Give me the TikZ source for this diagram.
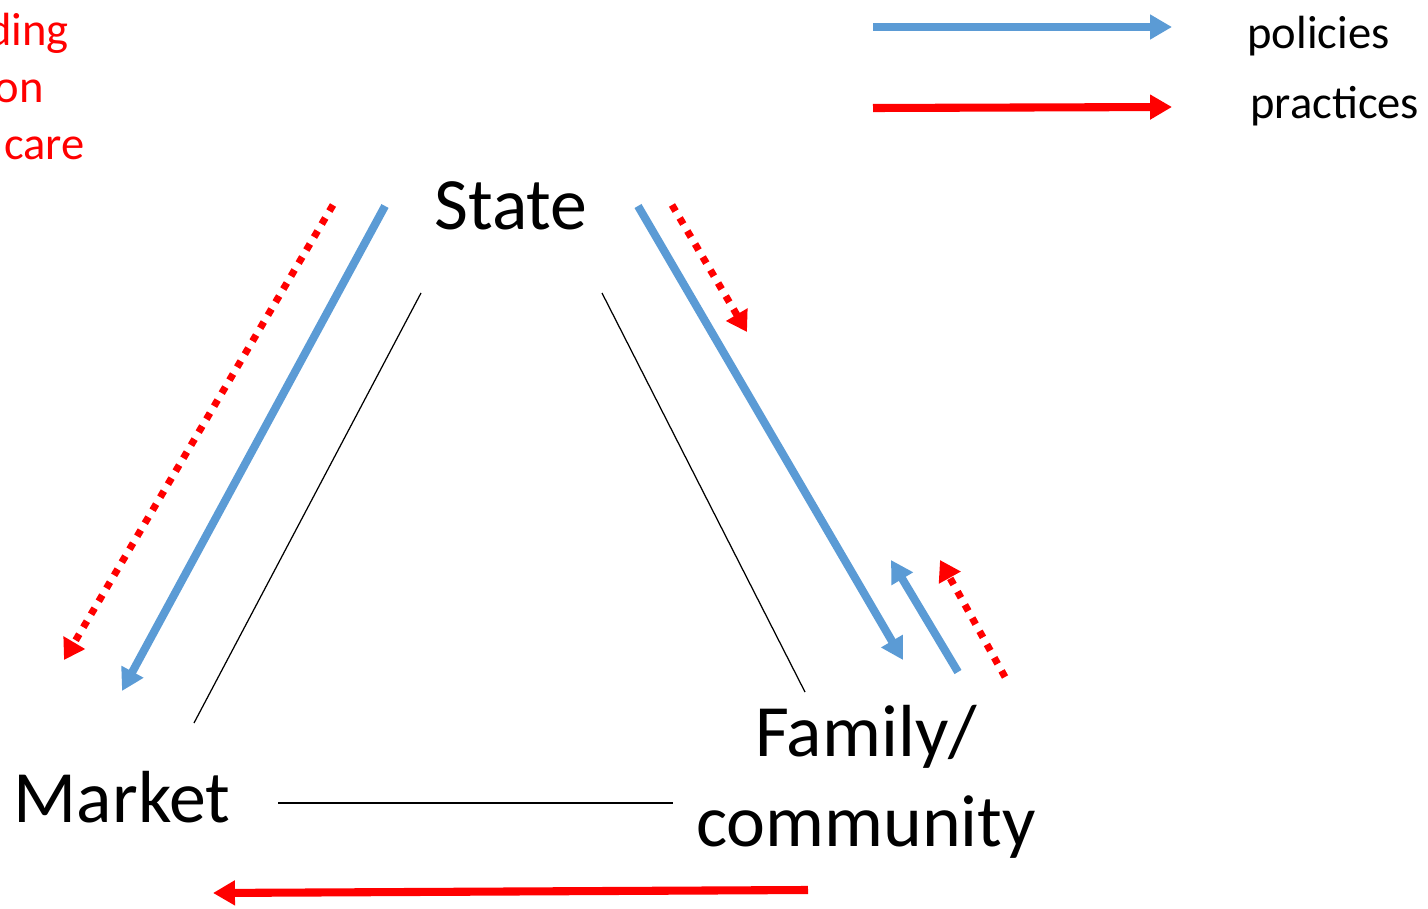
\documentclass[tikz,border=0pt]{standalone}
\usepackage{fontspec}
\setmainfont{Carlito}
\usetikzlibrary{arrows.meta}
\definecolor{polblue}{HTML}{5B9BD5}
\definecolor{pracred}{HTML}{FF0000}
\tikzset{
  sector/.style={inner sep=0pt, font=\fontsize{42}{51}\selectfont},
  legendtext/.style={inner sep=0pt, anchor=base west, font=\fontsize{26.5}{32}\selectfont},
  redtext/.style={inner sep=0pt, anchor=base east, text=pracred, font=\fontsize{26.5}{32}\selectfont},
  policy/.style={draw=polblue, line width=4.6pt, -{Triangle[length=12.5pt,width=13.5pt]}},
  practice/.style={draw=pracred, line width=4.6pt, -{Triangle[length=12.5pt,width=13.5pt]}},
  dotpractice/.style={draw=pracred, line width=4pt, dash pattern=on 4pt off 4.6pt, -{Triangle[length=11.5pt,width=13.5pt]}},
  link/.style={draw=black, line width=0.7pt}
}
\begin{document}
\begin{tikzpicture}[x=0.02cm, y=-0.02cm]
	\useasboundingbox (0,0) rectangle (1428,909);
	\clip (0,0) rectangle (1428,909);
	% red text, cut at the left edge
	\node[redtext] (t1) at (69,46) {ding};
	\node[redtext] (t2) at (44,103) {on};
	\node[redtext] (t3) at (85,160) {care};

	% sectors
	\node[sector, anchor=base] (state) at (511,230) {State};
	\node[sector, anchor=base] (market) at (122,822) {Market};
	\node[sector, align=center] (family) at (866,782) {Family/\\community};

	% legend
	\coordinate (lb1) at (873,27);  \coordinate (lb2) at (1172,27);
	\coordinate (lr1) at (873,108); \coordinate (lr2) at (1172,107);
	\draw (lb1) edge[policy] (lb2);
	\draw (lr1) edge[practice] (lr2);
	\node[legendtext] (polices) at (1247,49) {policies};
	\node[legendtext] (pracs) at (1250,119) {practices};

	% thin links
	\coordinate (sm1) at (421,293); \coordinate (sm2) at (194,723);
	\coordinate (sf1) at (602,293); \coordinate (sf2) at (805,692);
	\coordinate (mf1) at (278,803); \coordinate (mf2) at (673,803);
	\draw (sm1) edge[link] (sm2);
	\draw (sf1) edge[link] (sf2);
	\draw (mf1) edge[link] (mf2);

	% policies
	\coordinate (pa1) at (385,206); \coordinate (pa2) at (122,691);
	\coordinate (pb1) at (638,206); \coordinate (pb2) at (903,660);
	\coordinate (pc1) at (958,672); \coordinate (pc2) at (891,560);
	\draw (pa1) edge[policy] (pa2);
	\draw (pb1) edge[policy] (pb2);
	\draw (pc1) edge[policy] (pc2);

	% practices
	\coordinate (ra1) at (333,205); \coordinate (ra2) at (64,660);
	\coordinate (rb1) at (672,205); \coordinate (rb2) at (747,332);
	\coordinate (rc1) at (1005,677); \coordinate (rc2) at (940,560);
	\coordinate (rd1) at (808,890); \coordinate (rd2) at (213,893);
	\draw (ra1) edge[dotpractice] (ra2);
	\draw (rb1) edge[dotpractice] (rb2);
	\draw (rc1) edge[dotpractice] (rc2);
	\draw (rd1) edge[practice] (rd2);
\end{tikzpicture}
\end{document}
